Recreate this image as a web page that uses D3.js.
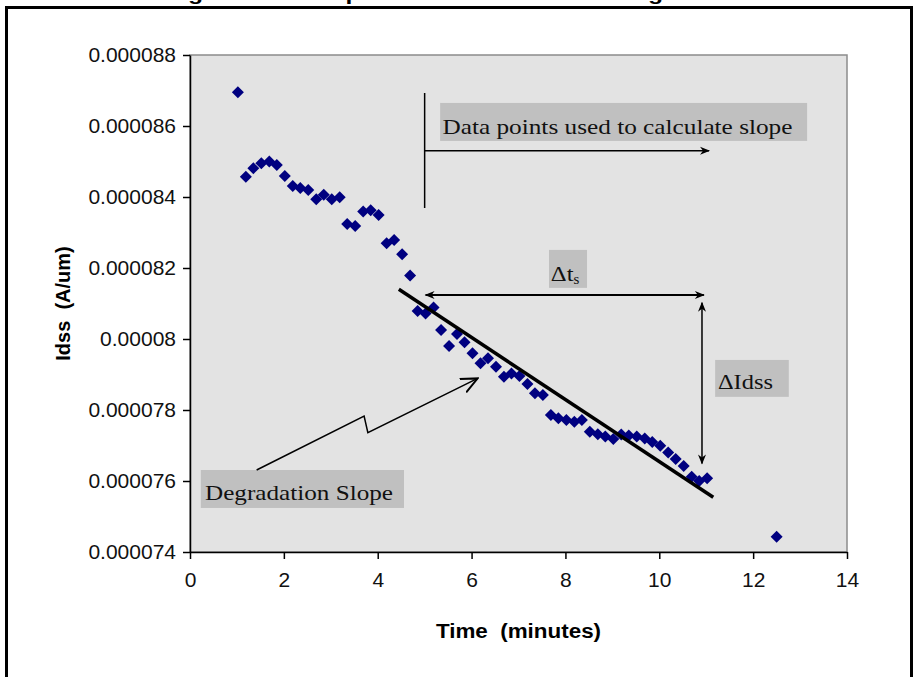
<!DOCTYPE html>
<html>
<head>
<meta charset="utf-8">
<script src="https://cdn.jsdelivr.net/npm/d3@7"></script>
<style>
  body { margin: 0; background: #fff; }
  text { font-family: Arial, "Liberation Sans", sans-serif; white-space: pre; }
  .serif { font-family: "Times New Roman", "Liberation Serif", serif; }
</style>
</head>
<body>
<svg id="chart" width="915" height="677"></svg>
<script>
// time in minutes
var times = [1.02, 1.19, 1.35, 1.52, 1.69, 1.85, 2.02, 2.19, 2.35, 2.52,
  2.69, 2.85, 3.02, 3.19, 3.35, 3.52, 3.69, 3.85, 4.02, 4.19,
  4.35, 4.52, 4.69, 4.85, 5.02, 5.19, 5.35, 5.52, 5.69, 5.85,
  6.02, 6.19, 6.35, 6.52, 6.69, 6.85, 7.02, 7.19, 7.35, 7.52,
  7.69, 7.85, 8.02, 8.19, 8.35, 8.52, 8.69, 8.85, 9.02, 9.19,
  9.35, 9.52, 9.69, 9.85, 10.02, 10.19, 10.35, 10.52, 10.69, 10.85,
  11.02, 12.5];
// Idss in A/um
var idss = [8.695e-5, 8.457e-5, 8.481e-5, 8.495e-5, 8.500e-5, 8.490e-5, 8.459e-5, 8.431e-5, 8.425e-5, 8.420e-5,
  8.394e-5, 8.406e-5, 8.394e-5, 8.399e-5, 8.324e-5, 8.318e-5, 8.359e-5, 8.363e-5, 8.349e-5, 8.270e-5,
  8.279e-5, 8.239e-5, 8.179e-5, 8.079e-5, 8.072e-5, 8.089e-5, 8.025e-5, 7.980e-5, 8.014e-5, 7.991e-5,
  7.960e-5, 7.932e-5, 7.946e-5, 7.922e-5, 7.894e-5, 7.903e-5, 7.896e-5, 7.873e-5, 7.847e-5, 7.842e-5,
  7.786e-5, 7.777e-5, 7.772e-5, 7.767e-5, 7.772e-5, 7.739e-5, 7.732e-5, 7.725e-5, 7.718e-5, 7.731e-5,
  7.728e-5, 7.725e-5, 7.720e-5, 7.710e-5, 7.699e-5, 7.680e-5, 7.662e-5, 7.642e-5, 7.612e-5, 7.600e-5,
  7.608e-5, 7.443e-5];
// hand drawn slope line (start, end)
var slopeT = [4.45, 11.15];
var slopeV = [8.140e-5, 7.554e-5];

var xTicks = [0, 2, 4, 6, 8, 10, 12, 14];
var yTicks = [8.8e-5, 8.6e-5, 8.4e-5, 8.2e-5, 8.0e-5, 7.8e-5, 7.6e-5, 7.4e-5];
var yTickLabels = ['0.000088', '0.000086', '0.000084', '0.000082', '0.00008', '0.000078', '0.000076', '0.000074'];

var svg = d3.select('#chart');

var x = d3.scaleLinear().domain([0, 14]).range([190, 847]);
var y = d3.scaleLinear().domain([7.4e-5, 8.8e-5]).range([552, 55]);
var u = function(v) { return v * 1e-6; }; // annotations given in uA/um

// the source picture is a bit wider than tall, so texts get stretched
function stretch(sel, k) {
  sel.each(function() {
    var w = this.getComputedTextLength();
    d3.select(this).attr('textLength', w * k).attr('lengthAdjust', 'spacingAndGlyphs');
  });
}

// cut off title, only descenders show
var title = svg.append('text')
  .attr('x', 0).attr('y', 0)
  .style('font-weight', 'bold').style('font-size', '19px')
  .text('Degradation Slope Calculation for Idss Degradation');
(function() {
  var n = title.node();
  var w = n.getComputedTextLength();
  var c1 = n.getStartPositionOfChar(2).x, c2 = n.getStartPositionOfChar(41).x;
  var k = (653 - 193) / (c2 - c1);
  title.attr('textLength', w * k).attr('lengthAdjust', 'spacingAndGlyphs')
    .attr('x', 188 - c1 * k);
})();

// outer frame
svg.append('path')
  .attr('d', 'M6.5,677V7.5H911.5V677')
  .attr('fill', 'none').attr('stroke', '#000').attr('stroke-width', 3);

// plot area
svg.append('rect')
  .attr('x', x(0)).attr('y', y(8.8e-5))
  .attr('width', x(14) - x(0)).attr('height', y(7.4e-5) - y(8.8e-5))
  .attr('fill', '#e3e3e3').attr('stroke', '#8c8c8c').attr('stroke-width', 1.5);

var gx = svg.append('g')
  .attr('transform', 'translate(0,' + y(7.4e-5) + ')')
  .call(d3.axisBottom(x).tickValues(xTicks).tickSize(7).tickSizeOuter(0).tickPadding(14));
var gy = svg.append('g')
  .attr('transform', 'translate(' + x(0) + ',0)')
  .call(d3.axisLeft(y).tickValues(yTicks).tickSize(7).tickSizeOuter(0).tickPadding(7)
    .tickFormat(function(d, i) { return yTickLabels[i]; }));
[gx, gy].forEach(function(g) {
  g.selectAll('path, line').attr('stroke', '#000').attr('stroke-width', 1.5);
  g.selectAll('text').style('font-size', '20px').attr('fill', '#111')
    .style('font-family', 'Arial, "Liberation Sans", sans-serif');
  stretch(g.selectAll('text'), 1.05);
});

svg.append('text')
  .attr('x', (x(0) + x(14)) / 2).attr('y', 638)
  .attr('text-anchor', 'middle')
  .style('font-weight', 'bold').style('font-size', '20px')
  .text('Time  (minutes)')
  .call(stretch, 1.12);
svg.append('text')
  .attr('transform', 'translate(70,' + ((y(7.4e-5) + y(8.8e-5)) / 2) + ') rotate(-90)')
  .attr('text-anchor', 'middle')
  .style('font-weight', 'bold').style('font-size', '20px')
  .text('Idss  (A/um)')
  .call(stretch, 1.0);

// data points
svg.append('g').selectAll('path')
  .data(times)
  .enter().append('path')
  .attr('d', d3.symbol(d3.symbolSquare, 72))
  .attr('transform', function(d, i) {
    return 'translate(' + x(d) + ',' + y(idss[i]) + ') rotate(45)';
  })
  .attr('fill', '#000080');

// slope line
svg.append('line')
  .attr('x1', x(slopeT[0])).attr('y1', y(slopeV[0]))
  .attr('x2', x(slopeT[1])).attr('y2', y(slopeV[1]))
  .attr('stroke', '#000').attr('stroke-width', 3.5);

// arrow heads
var defs = svg.append('defs');
defs.append('marker').attr('id', 'head')
  .attr('viewBox', '0 -5 10 10').attr('refX', 9).attr('refY', 0)
  .attr('markerWidth', 12).attr('markerHeight', 10)
  .attr('markerUnits', 'userSpaceOnUse').attr('orient', 'auto-start-reverse')
  .append('path').attr('d', 'M0,-4L10,0L0,4L3,0Z').attr('fill', '#000');
defs.append('marker').attr('id', 'open')
  .attr('viewBox', '0 -6 12 12').attr('refX', 11).attr('refY', 0)
  .attr('markerWidth', 18).attr('markerHeight', 18)
  .attr('markerUnits', 'userSpaceOnUse').attr('orient', 'auto')
  .append('path').attr('d', 'M0,-5L11,0L0,5').attr('fill', 'none')
  .attr('stroke', '#000').attr('stroke-width', 1.3);

var ann = svg.append('g');

function box(t1, v1, t2, v2) {
  ann.append('rect')
    .attr('x', x(t1)).attr('y', y(u(v1)))
    .attr('width', x(t2) - x(t1)).attr('height', y(u(v2)) - y(u(v1)))
    .attr('fill', '#c0c0c0');
}
function line(pts, w, mStart, mEnd) {
  var p = ann.append('path')
    .attr('d', d3.line().x(function(d) { return x(d[0]); }).y(function(d) { return y(u(d[1])); })(pts))
    .attr('fill', 'none').attr('stroke', '#000').attr('stroke-width', w);
  if (mStart) p.attr('marker-start', 'url(#' + mStart + ')');
  if (mEnd) p.attr('marker-end', 'url(#' + mEnd + ')');
}
function label(t, v, str, size) {
  return ann.append('text').attr('class', 'serif')
    .attr('x', x(t)).attr('y', y(u(v)))
    .style('font-size', size + 'px').attr('fill', '#111')
    .text(str);
}

// "Data points used to calculate slope"
box(5.33, 86.65, 13.15, 85.58);
label(5.38, 85.77, 'Data points used to calculate slope', 21).attr('textLength', 350).attr('lengthAdjust', 'spacingAndGlyphs');
line([[5.0, 86.93], [5.0, 83.69]], 1.5);
line([[5.0, 85.30], [11.06, 85.30]], 1.5, null, 'head');

// delta t_s
box(7.65, 82.51, 8.46, 81.44);
var dt = label(7.69, 81.63, '', 22);
dt.append('tspan').text('\u0394t').call(stretch, 1.12);
dt.append('tspan').attr('dy', 3).style('font-size', '15px').text('s');
line([[5.02, 81.24], [10.95, 81.24]], 2, 'head', 'head');

// delta Idss
line([[10.91, 81.02], [10.91, 76.49]], 1.5, 'head', 'head');
box(11.19, 79.41, 12.76, 78.37);
label(11.25, 78.6, '\u0394Idss', 21).attr('textLength', 55).attr('lengthAdjust', 'spacingAndGlyphs');

// Degradation slope
box(0.23, 76.31, 4.56, 75.24);
label(0.32, 75.47, 'Degradation Slope', 21).attr('textLength', 188).attr('lengthAdjust', 'spacingAndGlyphs');
line([[1.42, 76.31], [3.71, 77.83], [3.79, 77.36], [6.13, 78.89]], 1.5, null, 'open');
</script>
</body>
</html>
